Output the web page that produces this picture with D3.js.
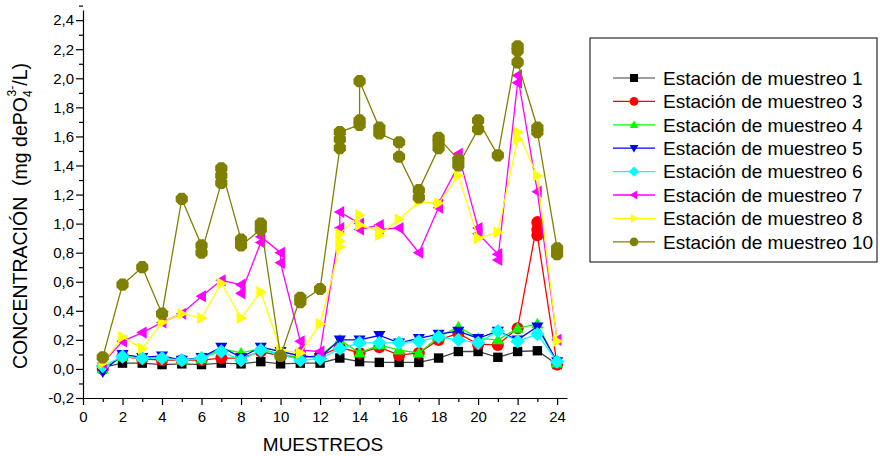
<!DOCTYPE html>
<html>
<head>
<meta charset="utf-8">
<script src="https://cdn.jsdelivr.net/npm/d3@7"></script>
<style>
	body {margin:0; background:#fff;}
	text {font-family: Arial, "Liberation Sans", sans-serif; fill:#000;}
	.axis path, .axis line {stroke:#000; stroke-width:1.2px; fill:none;}
</style>
</head>
<body>
<svg id="chart" width="880" height="456"></svg>
<script>
// muestreos 1..24, some samples have replicates (nested arrays)
var muestreos = [1,2,3,4,5,6,7,8,9,10,11,12,13,14,15,16,17,18,19,20,21,22,23,24];

var est1 = [0.01,0.04,0.04,0.03,0.035,0.03,0.04,0.035,0.05,0.035,0.04,0.04,0.075,0.05,0.045,0.045,0.045,0.075,0.12,0.12,0.08,0.12,0.125,0.03];
var est3 = [0.0,0.085,0.07,0.06,0.06,0.06,0.075,0.075,0.12,0.09,0.08,0.09,0.15,0.11,0.15,0.095,0.11,0.2,0.245,0.17,0.165,0.28,[1.01,0.96,0.92],0.03];
var est4 = [0.0,0.085,0.08,0.08,0.06,0.07,0.14,0.11,0.14,0.10,0.08,0.09,0.2,0.11,0.165,0.13,0.11,0.22,0.29,0.21,0.2,0.28,0.31,0.04];
var est5 = [-0.02,0.10,0.08,0.09,0.06,0.08,0.15,0.08,0.15,0.12,0.09,0.08,0.2,0.2,0.23,0.18,0.21,0.24,0.26,0.21,0.26,0.2,0.29,0.05];
var est6 = [0.02,0.085,0.075,0.075,0.06,0.075,0.12,0.06,0.13,0.10,0.06,0.07,0.14,0.18,0.18,0.18,0.19,0.22,0.2,0.18,0.26,0.19,0.24,0.05];
var est7 = [0.04,0.19,0.25,0.32,0.38,0.50,0.61,[0.58,0.52],[0.87,0.91],[0.80,0.73],[0.19,0.13],0.12,[0.97,1.08],[1.00,0.96],[0.99,0.96],0.97,0.80,[1.11,1.14],[1.40,1.48],[0.97,0.93],[0.79,0.75],[1.97,2.02],1.22,0.20];
var est8 = [0.04,0.22,0.14,0.32,0.38,0.35,0.59,0.35,0.53,0.13,0.11,0.31,[0.84,0.88,0.93],[1.06,0.99],[0.95,0.92],1.03,1.15,1.14,1.33,0.90,0.94,[1.58,1.63],1.33,0.19];
var est10 = [0.08,0.58,0.70,0.38,1.17,[0.85,0.80],[1.28,1.33,1.38],[0.89,0.85],[0.96,1.00],0.09,[0.49,0.46],0.55,[1.52,1.58,1.63],[1.68,1.71,1.98],[1.66,1.62],[1.56,1.46],[1.18,1.23],[1.52,1.56,1.59],[1.44,1.40],[1.65,1.71],1.47,[2.22,2.19,2.11],[1.66,1.63],[0.83,0.79]];

var seriesNames = ["Estación de muestreo 1","Estación de muestreo 3","Estación de muestreo 4","Estación de muestreo 5","Estación de muestreo 6","Estación de muestreo 7","Estación de muestreo 8","Estación de muestreo 10"];
var seriesValues = [est1, est3, est4, est5, est6, est7, est8, est10];
var seriesColors = ["#000000","#ff0000","#00ff00","#0000ff","#00ffff","#ff00ff","#ffff00","#808000"];
var lineColors = ["#444444","#ff0000","#00ff00","#0000ff","#00ffff","#ff00ff","#ffff00","#808000"];
var seriesSymbols = ["square","circle","up","down","diamond","left","right","hex"];

var yTicks = [-0.2,0.0,0.2,0.4,0.6,0.8,1.0,1.2,1.4,1.6,1.8,2.0,2.2,2.4];
var xTicks = [0,2,4,6,8,10,12,14,16,18,20,22,24];

var svg = d3.select("#chart");

var x = d3.scaleLinear().domain([0, 24.5]).range([83, 567]);
var y = d3.scaleLinear().domain([-0.2, 2.47]).range([398, 10]);

function fmt(d) {
	return d3.format(".1f")(d).replace(".", ",").replace("\u2212", "-");
}

// flatten replicates to points
function toPoints(values) {
	var pts = [];
	values.forEach(function(v, i) {
		[].concat(v).forEach(function(val) {
			pts.push({x: muestreos[i], y: val});
		});
	});
	return pts;
}

function symbolPath(type, s) {
	switch (type) {
		case "square":
			return "M"+(-s)+","+(-s)+"H"+s+"V"+s+"H"+(-s)+"Z";
		case "circle":
			return d3.arc()({innerRadius:0, outerRadius:s*1.1, startAngle:0, endAngle:2*Math.PI});
		case "up":
			return "M0,"+(-s*1.1)+"L"+(s*1.1)+","+(s*0.8)+"L"+(-s*1.1)+","+(s*0.8)+"Z";
		case "down":
			return "M0,"+(s*1.1)+"L"+(s*1.1)+","+(-s*0.8)+"L"+(-s*1.1)+","+(-s*0.8)+"Z";
		case "left":
			return "M"+(-s*1.1)+",0L"+(s*0.8)+","+(-s*1.1)+"L"+(s*0.8)+","+(s*1.1)+"Z";
		case "right":
			return "M"+(s*1.1)+",0L"+(-s*0.8)+","+(-s*1.1)+"L"+(-s*0.8)+","+(s*1.1)+"Z";
		case "diamond":
			return "M0,"+(-s*1.3)+"L"+(s*1.3)+",0L0,"+(s*1.3)+"L"+(-s*1.3)+",0Z";
		default:
			var p = [];
			for (var k = 0; k < 8; k++) {
				var a = Math.PI/8 + k*Math.PI/4;
				p.push([Math.cos(a)*s*1.2, Math.sin(a)*s*1.2]);
			}
			return "M"+p.join("L")+"Z";
	}
}

// Axes
var yAxis = svg.append("g")
	.attr("class", "axis")
	.attr("transform", "translate(83,0)")
	.call(d3.axisLeft(y).tickValues(yTicks).tickFormat(fmt).tickSize(7).tickSizeOuter(0))
;
svg.append("g")
	.attr("class", "axis")
	.attr("transform", "translate(83,0)")
	.call(d3.axisLeft(y).tickValues(yTicks.map(function(d) {return d + 0.1;})).tickFormat("").tickSize(4).tickSizeOuter(0))
	.select("path").remove()
;
var xAxis = svg.append("g")
	.attr("class", "axis")
	.attr("transform", "translate(0,398)")
	.call(d3.axisBottom(x).tickValues(xTicks).tickFormat(d3.format("d")).tickSize(7).tickSizeOuter(0))
;
svg.append("g")
	.attr("class", "axis")
	.attr("transform", "translate(0,398)")
	.call(d3.axisBottom(x).tickValues(xTicks.slice(0, -1).map(function(d) {return d + 1;})).tickFormat("").tickSize(4).tickSizeOuter(0))
	.select("path").remove()
;
svg.selectAll(".axis text")
	.style("font-size", "15px")
	.style("font-family", "Arial, 'Liberation Sans', sans-serif")
;
xAxis.selectAll("text").attr("y", 13);
yAxis.selectAll("text").attr("x", -9);

// Axis titles
svg.append("text")
	.attr("x", 323)
	.attr("y", 451)
	.style("text-anchor", "middle")
	.style("font-size", "19px")
	.text("MUESTREOS")
;
var yt = svg.append("text")
	.attr("transform", "translate(27,216) rotate(-90)")
	.style("text-anchor", "middle")
	.style("font-size", "19.5px")
	.style("white-space", "pre")
;
yt.append("tspan").text("CONCENTRACIÓN  (mg dePO");
yt.append("tspan").attr("dy", 5).style("font-size", "12px").text("4");
yt.append("tspan").attr("dx", -6).attr("dy", -16).style("font-size", "12px").text("3-");
yt.append("tspan").attr("dy", 11).text("/L)");

// Series
var line = d3.line()
	.x(function(d) {return x(d.x);})
	.y(function(d) {return y(d.y);})
;

seriesValues.forEach(function(values, i) {
	var pts = toPoints(values);
	var g = svg.append("g").attr("class", "series");
	g.append("path")
		.attr("d", line(pts))
		.style("fill", "none")
		.style("stroke", lineColors[i])
		.style("stroke-width", 1.3)
	;
	g.selectAll("path.sym").data(pts).enter().append("path")
		.attr("class", "sym")
		.attr("transform", function(d) {return "translate("+x(d.x)+","+y(d.y)+")";})
		.attr("d", symbolPath(seriesSymbols[i], seriesSymbols[i] == "square" ? 4.7 : 5.5))
		.style("fill", seriesColors[i])
	;
});

// Legend
var legend = svg.append("g").attr("transform", "translate(590,38)");
legend.append("rect")
	.attr("width", 287)
	.attr("height", 224)
	.style("fill", "#fff")
	.style("stroke", "#000")
	.style("stroke-width", 1)
;
var rows = legend.selectAll("g.row").data(seriesNames).enter().append("g")
	.attr("class", "row")
	.attr("transform", function(d, i) {return "translate(0,"+(40 + i*23.4)+")";})
;
rows.append("line")
	.attr("x1", 23).attr("x2", 65)
	.style("stroke", function(d, i) {return i == 0 ? "#808080" : lineColors[i];})
	.style("stroke-width", 1.3)
;
rows.append("path")
	.attr("transform", "translate(44,0)")
	.attr("d", function(d, i) {return symbolPath(seriesSymbols[i] == "hex" ? "circle" : seriesSymbols[i], 4);})
	.style("fill", function(d, i) {return seriesColors[i];})
;
rows.append("text")
	.attr("x", 73)
	.attr("dy", "0.36em")
	.style("font-size", "19px")
	.text(function(d) {return d;})
;
</script>
</body>
</html>
